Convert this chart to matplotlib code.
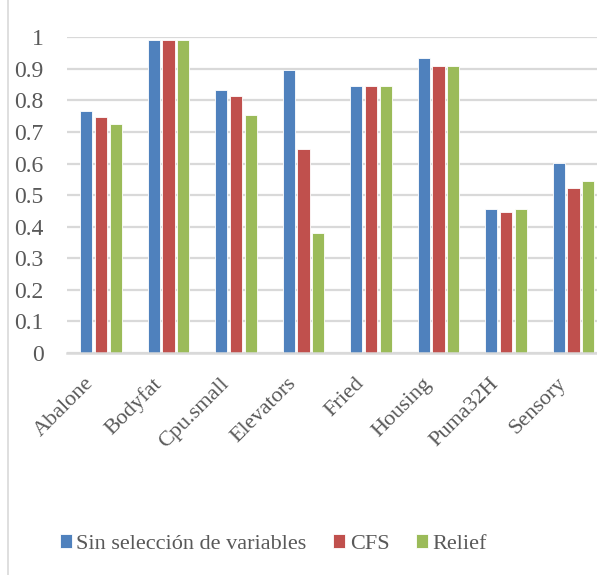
import matplotlib
matplotlib.use("Agg")
import matplotlib.pyplot as plt
import numpy as np
from matplotlib.lines import Line2D

categories = ["Abalone", "Bodyfat", "Cpu.small", "Elevators", "Fried",
              "Housing", "Puma32H", "Sensory"]
series_names = ["Sin selección de variables", "CFS", "Relief"]
sin_seleccion = [0.766, 0.992, 0.832, 0.896, 0.845, 0.934, 0.455, 0.603]
cfs = [0.749, 0.990, 0.813, 0.647, 0.845, 0.909, 0.448, 0.523]
relief = [0.725, 0.990, 0.754, 0.381, 0.845, 0.909, 0.455, 0.544]
y_ticks = [0, 0.1, 0.2, 0.3, 0.4, 0.5, 0.6, 0.7, 0.8, 0.9, 1]
y_tick_labels = ["0", "0.1", "0.2", "0.3", "0.4", "0.5", "0.6", "0.7", "0.8", "0.9", "1"]

colors = ["#4F81BD", "#C0504D", "#9BBB59"]
text_color = "#595959"
grid_color = "#D9D9D9"
plt.rcParams["font.family"] = ["Liberation Serif", "DejaVu Serif"]

W, H = 597, 575
fig = plt.figure(figsize=(W / 100, H / 100), dpi=100)
fig.patch.set_facecolor("white")

left, right = 67.25, 607.25
bottom, top = 353, 37.3
ax = fig.add_axes([left / W, 1 - bottom / H, (right - left) / W, (bottom - top) / H])

x = np.arange(len(categories))
bar_w = 0.178
step = 0.222
handles = []
for i, (vals, c, name) in enumerate(zip([sin_seleccion, cfs, relief], colors, series_names)):
    b = ax.bar(x + (i - 1) * step, vals, width=bar_w, color=c, edgecolor="white",
               linewidth=0.6, label=name, zorder=3)
    handles.append(b)

ax.set_xlim(-0.5, len(categories) - 0.5)
ax.set_ylim(0, 1)
ax.set_yticks(y_ticks)
ax.set_yticklabels(y_tick_labels, fontsize=17, color=text_color)
ax.yaxis.grid(True, color=grid_color, linewidth=1.6, zorder=0)
ax.set_axisbelow(True)
for s in ["top", "right", "left"]:
    ax.spines[s].set_visible(False)
ax.spines["bottom"].set_color(grid_color)
ax.spines["bottom"].set_linewidth(1.8)
ax.spines["bottom"].set_zorder(4)
ax.tick_params(axis="y", length=0, pad=17)

# category labels, rotated 45 degrees and ending just left of each group
ax.set_xticks(x)
ax.set_xticklabels([])
ax.tick_params(axis="x", length=0)
for i, name in enumerate(categories):
    ax.annotate(name, xy=(i, 0), xycoords=("data", "axes fraction"),
                xytext=(-10, -28), textcoords="offset pixels",
                rotation=45, ha="right", va="center", rotation_mode="anchor",
                fontsize=16, color=text_color)

leg = fig.legend(handles=handles, labels=series_names, loc="center",
                 bbox_to_anchor=(273.5 / W, 1 - 544 / H), ncol=3, frameon=False,
                 fontsize=16, handlelength=0.55,
                 handleheight=0.55, handletextpad=0.2, columnspacing=1.2,
                 borderpad=0)
for t in leg.get_texts():
    t.set_color(text_color)

# chart area border on the left edge
fig.add_artist(Line2D([7.5 / W, 7.5 / W], [0, 1], color=grid_color, linewidth=1.2,
                      transform=fig.transFigure))

fig.savefig("out.png", dpi=100)
